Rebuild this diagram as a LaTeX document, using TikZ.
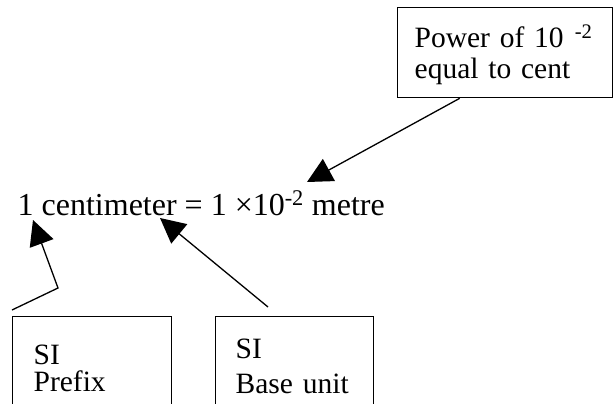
\documentclass[tikz,border=0pt]{standalone}
\usepackage{fontspec}
\setmainfont{Liberation Serif}
\usetikzlibrary{arrows.meta, positioning, calc}
\tikzset{
  every picture/.style={x=1pt, y=1pt, line width=1.3pt},
  box/.style={draw, anchor=north west, align=left, inner xsep=#1, inner ysep=0pt,
              font=\fontsize{29.5}{29.5}\selectfont},
  box/.default=17pt,
  arrow/.style={-{Triangle[length=25pt, width=25pt]}},
  eqtext/.style={font=\fontsize{32}{32}\selectfont, inner sep=0pt, anchor=base west},
}

\begin{document}
\begin{tikzpicture}
  \clip (0,0) rectangle (613,-404);
  % equation
  \node[eqtext] (eq) at (17,-215) {1 centimeter = 1 ×10\textsuperscript{-2} metre};
  % boxes
  \node[box, text width=181pt, minimum height=90pt] (pow) at (397,-7)
    {\rule{0pt}{27pt}Power of 10\hspace{11pt}\textsuperscript{-2}\\[1pt] equal to cent};
  \node[box=21pt, text width=117pt, minimum height=103pt] (pfx) at (12,-316)
    {SI\\[-2pt] Prefix};
  \node[box=20pt, text width=118pt, minimum height=99pt] (base) at (215,-316)
    {SI\\[6pt] Base unit};
  % arrow ends
  \coordinate (tipexp) at (307,-182);
  \coordinate (tippfx) at (33,-220);
  \coordinate (tipbase) at (160,-218);
  \coordinate (pfxfoot) at (12,-310);
  \coordinate (pfxknee) at (58,-288);
  \coordinate (basefoot) at (268,-307);
  % connectors
  \draw[arrow] ($(pow.south west)!0.29!(pow.south east)$) -- (tipexp);
  \draw[arrow] (pfxfoot) -- (pfxknee) -- (tippfx);
  \draw[arrow] (basefoot) -- (tipbase);
\end{tikzpicture}
\end{document}
